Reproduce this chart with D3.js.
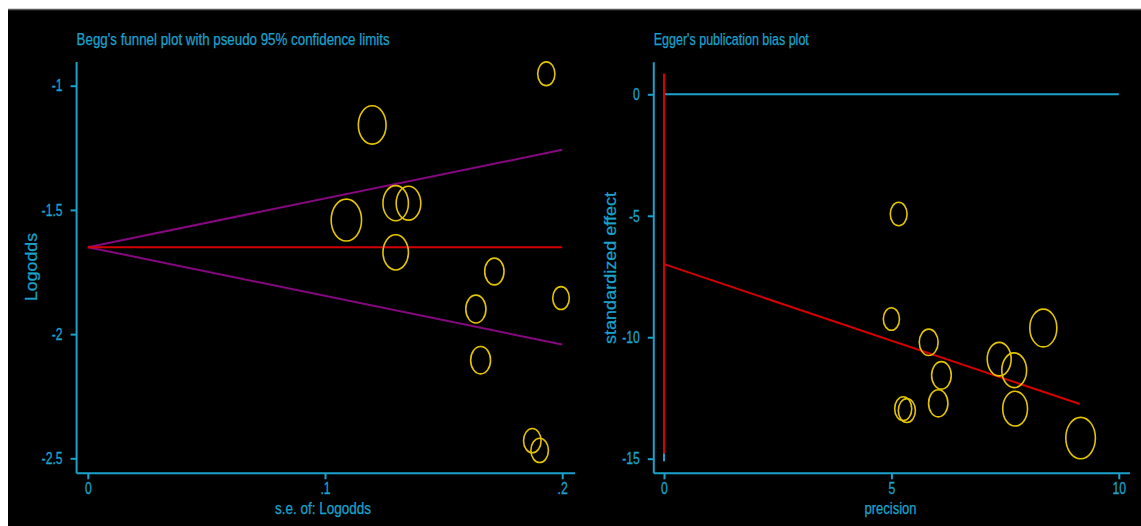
<!DOCTYPE html>
<html>
<head>
<meta charset="utf-8">
<script src="https://cdn.jsdelivr.net/npm/d3@7/dist/d3.min.js"></script>
<style>
  html, body { margin: 0; padding: 0; background: #ffffff; }
  svg { display: block; }
  text { font-family: "Liberation Sans", Arial, sans-serif; }
</style>
</head>
<body>
<svg id="chart" width="1141" height="526"></svg>
<script>
// ---- Study data (12 studies) ----
// Begg's funnel: standard error of log odds and the log odds per study
const seLogodds = [0.1933, 0.1199, 0.1298, 0.1352, 0.1090, 0.1298, 0.1714, 0.1995, 0.1636, 0.1656, 0.1874, 0.1905];
const logodds   = [-0.952, -1.158, -1.473, -1.473, -1.541, -1.671, -1.748, -1.855, -1.899, -2.105, -2.429, -2.468];
// Egger's plot: precision and standardized effect per study
const precision = [5.16, 8.34, 7.70, 7.37, 9.16, 7.72, 5.82, 5.00, 6.10, 6.03, 5.34, 5.26];
const stdEffect = [-4.93, -9.62, -11.36, -10.90, -14.15, -12.94, -10.21, -9.25, -11.57, -12.72, -13.02, -12.94];
// Study weights (marker size)
const weights   = [27, 70, 59, 55, 84, 59, 34, 25, 37, 36, 28, 28];

// Pooled estimate and pseudo 95% confidence limits
const funnelSe    = [0, 0.2];
const pooledLine  = [-1.65, -1.65];
const upperLimit  = [-1.65, -1.258];
const lowerLimit  = [-1.65, -2.042];

// Egger regression line and intercept confidence interval
const eggerFitX   = [0, 9.14];
const eggerFitY   = [-6.99, -12.75];
const interceptCI = [0.86, -14.78];
const interceptStub = [-14.78, -15.1];

// Axis ticks
const beggXTicks = [0, 0.1, 0.2];
const beggYTicks = [-1, -1.5, -2, -2.5];
const eggerXTicks = [0, 5, 10];
const eggerYTicks = [0, -5, -10, -15];

// Text
const beggTitle = "Begg's funnel plot with pseudo 95% confidence limits";
const beggXTitle = "s.e. of: Logodds";
const beggYTitle = "Logodds";
const eggerTitle = "Egger's publication bias plot";
const eggerXTitle = "precision";
const eggerYTitle = "standardized effect";

// ---- Styles ----
const CYAN = "#1aa2cc";
const YELLOW = "#e3c400";
const RED = "#d40000";
const PURPLE = "#85087f";
const NARROW = 0.74;   // horizontal squeeze for the condensed label face
const FS = 16;
const TICK_FS = 16.5;

const svg = d3.select("#chart");

// black canvas with a thin grey top edge
svg.append("rect").attr("x", 8).attr("y", 9).attr("width", 1133).attr("height", 517).attr("fill", "#000");
svg.append("line").attr("x1", 8).attr("x2", 1141).attr("y1", 9.5).attr("y2", 9.5)
  .attr("stroke", "#5a5a5a").attr("stroke-width", 1.5);

// Stata-style tick labels: drop leading zero (.1, .2)
const stataFmt = d => {
  let s = String(+d.toFixed(3));
  return s.replace(/^(-?)0\./, "$1.");
};

// condense a text element to a fraction of its natural width
function squeeze(sel, factor) {
  sel.each(function () {
    const w = this.getComputedTextLength();
    d3.select(this).attr("textLength", w * factor).attr("lengthAdjust", "spacingAndGlyphs");
  });
}

function styleAxis(g, fontSize) {
  g.select(".domain").remove();
  g.selectAll(".tick line").attr("stroke", CYAN).attr("stroke-width", 2);
  g.selectAll(".tick text").attr("fill", CYAN).attr("font-size", fontSize)
    .attr("font-family", '"Liberation Sans", Arial, sans-serif')
    .attr("stroke", CYAN).attr("stroke-width", 0.3)
    .call(squeeze, NARROW);
}

function panel(cfg) {
  const x = d3.scaleLinear().domain(cfg.xDomain).range(cfg.xRange);
  const y = d3.scaleLinear().domain(cfg.yDomain).range(cfg.yRange);
  const g = svg.append("g");

  // axis lines
  g.append("line").attr("x1", cfg.axisX).attr("x2", cfg.axisX)
    .attr("y1", cfg.axisTop).attr("y2", cfg.axisY)
    .attr("stroke", CYAN).attr("stroke-width", 2);
  g.append("line").attr("x1", cfg.axisX).attr("x2", cfg.axisRight)
    .attr("y1", cfg.axisY).attr("y2", cfg.axisY)
    .attr("stroke", CYAN).attr("stroke-width", 2);

  const ya = g.append("g").attr("transform", `translate(${cfg.axisX},0)`)
    .call(d3.axisLeft(y).tickValues(cfg.yTicks).tickSize(6).tickPadding(cfg.yPad).tickFormat(stataFmt));
  styleAxis(ya, TICK_FS);
  const xa = g.append("g").attr("transform", `translate(0,${cfg.axisY})`)
    .call(d3.axisBottom(x).tickValues(cfg.xTicks).tickSize(6).tickPadding(3).tickFormat(stataFmt));
  styleAxis(xa, TICK_FS);

  const textStyle = t => t.attr("fill", CYAN).attr("font-size", FS)
    .attr("stroke", CYAN).attr("stroke-width", 0.25)
    .attr("lengthAdjust", "spacingAndGlyphs");

  // titles
  g.append("text").attr("x", cfg.axisX).attr("y", 45)
    .call(textStyle).attr("textLength", cfg.titleLen)
    .text(cfg.title);
  g.append("text").attr("x", cfg.xTitleX).attr("y", 514)
    .call(textStyle).attr("text-anchor", "middle").attr("textLength", cfg.xTitleLen)
    .text(cfg.xTitle);
  g.append("text")
    .attr("transform", `translate(${cfg.yTitleX},${cfg.yTitleY}) rotate(-90)`)
    .call(textStyle).attr("text-anchor", "middle").attr("textLength", cfg.yTitleLen)
    .text(cfg.yTitle);

  return { g, x, y };
}

const lineGen = (x, y) => d3.line().x(d => x(d[0])).y(d => y(d[1]));

// ---- Begg's funnel plot ----
{
  const { g, x, y } = panel({
    xDomain: [0, 0.2], xRange: [87.8, 562.2],
    yDomain: [-1, -2.5], yRange: [85.7, 458.3],
    axisX: 76.6, axisTop: 62, axisY: 473.3, axisRight: 575,
    xTicks: beggXTicks, yTicks: beggYTicks, yPad: 8,
    title: beggTitle, titleLen: 313,
    xTitle: beggXTitle, xTitleX: 323, xTitleLen: 96,
    yTitle: beggYTitle, yTitleX: 37, yTitleY: 267, yTitleLen: 68
  });
  const L = lineGen(x, y);
  g.append("path").datum(d3.zip(funnelSe, upperLimit)).attr("d", L)
    .attr("fill", "none").attr("stroke", PURPLE).attr("stroke-width", 2);
  g.append("path").datum(d3.zip(funnelSe, lowerLimit)).attr("d", L)
    .attr("fill", "none").attr("stroke", PURPLE).attr("stroke-width", 2);
  g.append("path").datum(d3.zip(funnelSe, pooledLine)).attr("d", L)
    .attr("fill", "none").attr("stroke", RED).attr("stroke-width", 2);

  const r = d3.scaleSqrt().domain([0, 84]).range([0, 15.2]);
  g.selectAll("ellipse.study").data(d3.range(seLogodds.length)).join("ellipse")
    .attr("class", "study")
    .attr("cx", i => x(seLogodds[i])).attr("cy", i => y(logodds[i]))
    .attr("rx", i => r(weights[i])).attr("ry", i => r(weights[i]) * 1.38)
    .attr("fill", "none").attr("stroke", YELLOW).attr("stroke-width", 1.6);
}

// ---- Egger's publication bias plot ----
{
  const { g, x, y } = panel({
    xDomain: [0, 10], xRange: [664, 1118.8],
    yDomain: [0, -15], yRange: [94.3, 458.7],
    axisX: 653.8, axisTop: 62.3, axisY: 473.3, axisRight: 1130,
    xTicks: eggerXTicks, yTicks: eggerYTicks, yPad: 8,
    title: eggerTitle, titleLen: 155,
    xTitle: eggerXTitle, xTitleX: 890.5, xTitleLen: 52,
    yTitle: eggerYTitle, yTitleX: 616, yTitleY: 268, yTitleLen: 152
  });
  const L = lineGen(x, y);
  // zero reference line
  g.append("path").datum([[0, 0], [10, 0]]).attr("d", L)
    .attr("fill", "none").attr("stroke", CYAN).attr("stroke-width", 2);
  // intercept confidence interval
  g.append("path").datum([[0, interceptStub[0]], [0, interceptStub[1]]]).attr("d", L)
    .attr("fill", "none").attr("stroke", CYAN).attr("stroke-width", 2);
  g.append("path").datum([[0, interceptCI[0]], [0, interceptCI[1]]]).attr("d", L)
    .attr("fill", "none").attr("stroke", RED).attr("stroke-width", 2);
  // regression line
  g.append("path").datum(d3.zip(eggerFitX, eggerFitY)).attr("d", L)
    .attr("fill", "none").attr("stroke", RED).attr("stroke-width", 2);

  const r = d3.scaleSqrt().domain([0, 84]).range([0, 14.8]);
  g.selectAll("ellipse.study").data(d3.range(precision.length)).join("ellipse")
    .attr("class", "study")
    .attr("cx", i => x(precision[i])).attr("cy", i => y(stdEffect[i]))
    .attr("rx", i => r(weights[i])).attr("ry", i => r(weights[i]) * 1.4)
    .attr("fill", "none").attr("stroke", YELLOW).attr("stroke-width", 1.6);
}
</script>
</body>
</html>
